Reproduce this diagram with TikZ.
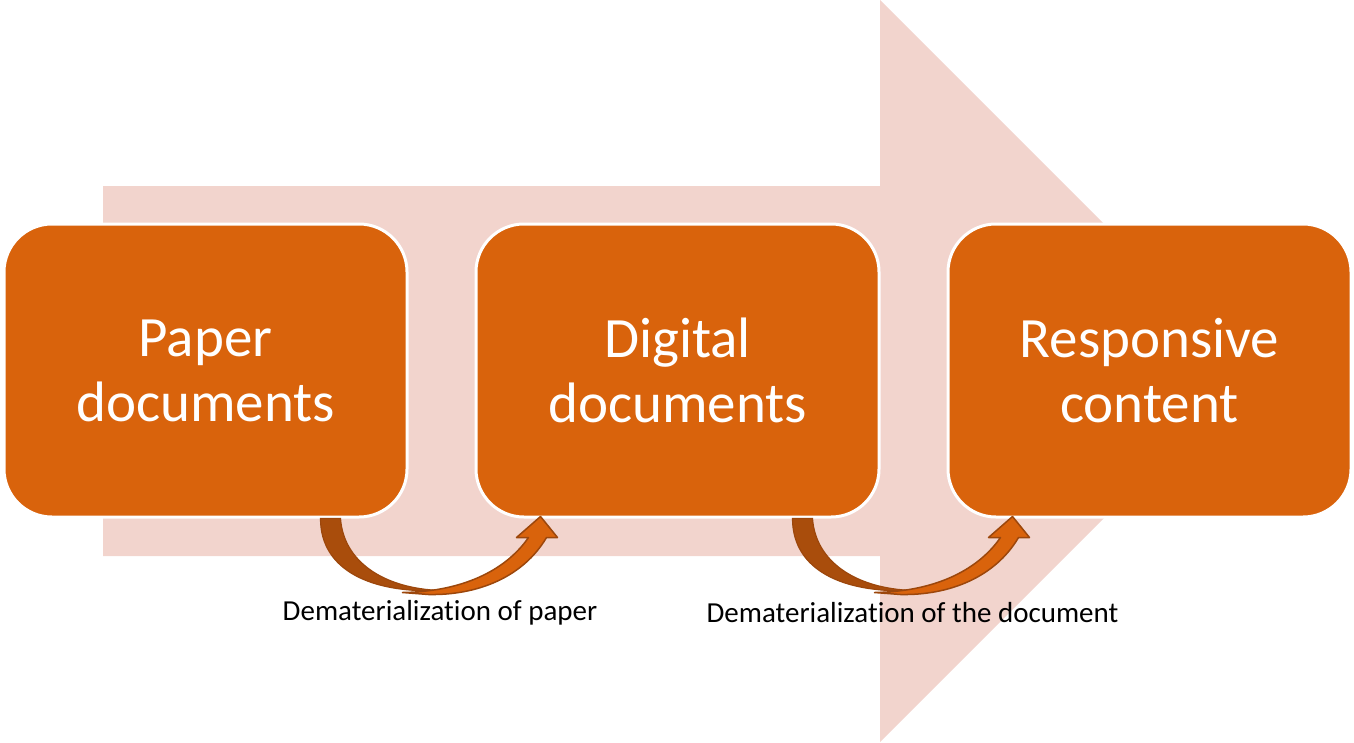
\documentclass[tikz,border=0pt]{standalone}
\usepackage{fontspec}
\setmainfont{Carlito}[Ligatures=NoCommon]
\definecolor{boxorange}{HTML}{D9630C}
\definecolor{flowpink}{HTML}{F2D4CD}
\definecolor{bendback}{HTML}{A94D0C}
\definecolor{bendedge}{HTML}{9C470C}
\begin{document}
\begin{tikzpicture}[x=1pt,y=-1pt,
	stage/.style={rectangle, rounded corners=48pt, minimum width=403pt, minimum height=293pt,
		fill=boxorange, draw=white, line width=3pt, text=white, align=center,
		font=\fontsize{57}{65}\selectfont},
	steplabel/.style={font=\fontsize{29}{34}\selectfont, text=black}]
	\useasboundingbox (0,0) rectangle (1354,742);
	% big background arrow
	\fill[flowpink] (103,186) -- (880,186) -- (880,0) -- (1251,371) -- (880,742) -- (880,556) -- (103,556) -- cycle;
	% the three stages
	\node[stage] (paper) at (205.5,370.5) {Paper\\documents};
	\node[stage] (digital) at (677.5,370.5) {Digital\\documents};
	\node[stage] (responsive) at (1149.5,370.5) {Responsive\\content};
	% curved arrows between stages
	\foreach \from/\to in {paper/digital, digital/responsive} {
		\begin{scope}[shift={(\from.south west)}]
			\draw[fill=bendback, draw=bendedge, line width=1.2pt]
				(318,0) -- (338,0) .. controls (341,43) and (381,70) .. (438,72)
				.. controls (371,75) and (318,53) .. cycle;
			\draw[fill=boxorange, draw=bendedge, line width=1.5pt, line join=round]
				(400,74) .. controls (466,73) and (506,48) .. (526,19) -- (514,19) -- (538,-2) -- (555,19) -- (544,19)
				.. controls (521,58) and (476,77) .. (426,76) -- cycle;
		\end{scope}
	}
	% labels
	\node[steplabel] (paperlabel) at (440,613) {Dematerialization of paper};
	\node[steplabel] (doclabel) at (912.5,613) {Dematerialization of the document};
\end{tikzpicture}
\end{document}
